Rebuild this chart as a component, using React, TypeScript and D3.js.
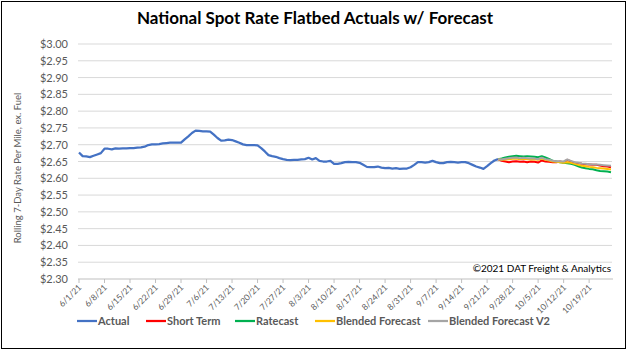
import React from "react";
import * as d3 from "d3";

// daily values starting 6/1/21
const actualStart = "6/1/21";
const actual = [
  2.677, 2.666, 2.665, 2.663, 2.667, 2.671, 2.675, 2.688, 2.688, 2.686,
  2.689, 2.688, 2.689, 2.689, 2.69, 2.69, 2.691, 2.692, 2.694, 2.699,
  2.701, 2.701, 2.702, 2.704, 2.705, 2.706, 2.706, 2.706, 2.706, 2.716,
  2.725, 2.735, 2.742, 2.741, 2.74, 2.74, 2.739, 2.73, 2.72, 2.712,
  2.713, 2.715, 2.714, 2.71, 2.706, 2.701, 2.699, 2.699, 2.699, 2.698,
  2.69, 2.68, 2.669, 2.666, 2.664, 2.66, 2.657, 2.655, 2.654, 2.655,
  2.655, 2.656, 2.657, 2.661, 2.656, 2.66, 2.652, 2.65, 2.65, 2.652,
  2.643, 2.643, 2.645, 2.648, 2.649, 2.648, 2.648, 2.646, 2.64, 2.634,
  2.633, 2.633, 2.635, 2.632, 2.63, 2.631, 2.629, 2.63, 2.628, 2.629,
  2.629, 2.633, 2.64, 2.648, 2.648, 2.647, 2.648, 2.652, 2.648, 2.645,
  2.645, 2.648, 2.649, 2.648, 2.647, 2.648, 2.648, 2.645, 2.64, 2.635,
  2.632, 2.628, 2.636, 2.645, 2.653, 2.657,
];

// forecasts start 9/24/21
const forecastStart = "9/24/21";
const shortTerm = [
  2.657, 2.652, 2.65, 2.648, 2.65, 2.651, 2.649, 2.65, 2.648, 2.65,
  2.649, 2.647, 2.653, 2.65, 2.649, 2.648, 2.648, 2.65, 2.647, 2.655,
  2.65, 2.646, 2.645, 2.643, 2.642, 2.641, 2.64, 2.64, 2.638, 2.636,
  2.635, 2.633,
];
const ratecast = [
  2.657, 2.659, 2.662, 2.664, 2.666, 2.667, 2.666, 2.665, 2.666, 2.665,
  2.664, 2.663, 2.666, 2.662, 2.658, 2.652, 2.65, 2.648, 2.646, 2.645,
  2.643, 2.64, 2.636, 2.632, 2.63, 2.628, 2.627, 2.624, 2.622, 2.621,
  2.62, 2.618,
];
const blended = [
  2.657, 2.655, 2.656, 2.657, 2.658, 2.659, 2.657, 2.658, 2.657, 2.656,
  2.657, 2.655, 2.659, 2.655, 2.653, 2.65, 2.649, 2.648, 2.646, 2.648,
  2.646, 2.643, 2.64, 2.637, 2.636, 2.634, 2.633, 2.631, 2.63, 2.629,
  2.628, 2.626,
];
const blendedV2 = [
  2.657, 2.656, 2.658, 2.66, 2.661, 2.662, 2.66, 2.661, 2.66, 2.659,
  2.659, 2.657, 2.661, 2.657, 2.655, 2.652, 2.651, 2.651, 2.65, 2.656,
  2.652, 2.648, 2.646, 2.644, 2.643, 2.642, 2.641, 2.641, 2.64, 2.639,
  2.638, 2.637,
];

const xTickLabels = [
  "6/1/21", "6/8/21", "6/15/21", "6/22/21", "6/29/21", "7/6/21", "7/13/21",
  "7/20/21", "7/27/21", "8/3/21", "8/10/21", "8/17/21", "8/24/21", "8/31/21",
  "9/7/21", "9/14/21", "9/21/21", "9/28/21", "10/5/21", "10/12/21", "10/19/21",
];
const yTicks = [
  2.3, 2.35, 2.4, 2.45, 2.5, 2.55, 2.6, 2.65, 2.7, 2.75, 2.8, 2.85, 2.9, 2.95, 3.0,
];

const seriesInfo = [
  { name: "Actual", color: "#4472C4" },
  { name: "Short Term", color: "#FF0000" },
  { name: "Ratecast", color: "#00B050" },
  { name: "Blended Forecast", color: "#FFC000" },
  { name: "Blended Forecast V2", color: "#A5A5A5" },
];

const parse = d3.utcParse("%m/%d/%y");
const toPoints = (start: string, vals: number[]) =>
  vals.map((v, i) => ({ date: d3.utcDay.offset(parse(start)!, i), value: v }));

const W = 627;
const H = 350;
const font = "Lato, 'Liberation Sans', sans-serif";
const gray = "#595959";

export default function App() {
  const x = d3
    .scaleUtc()
    .domain([parse("6/1/21")!, parse("10/25/21")!])
    .range([79, 611]);
  const y = d3.scaleLinear().domain([2.3, 3.0]).range([279, 44]);

  const line = d3
    .line<{ date: Date; value: number }>()
    .x((d) => x(d.date))
    .y((d) => y(d.value));

  const series = [
    toPoints(actualStart, actual),
    toPoints(forecastStart, shortTerm),
    toPoints(forecastStart, ratecast),
    toPoints(forecastStart, blended),
    toPoints(forecastStart, blendedV2),
  ];

  const legendX = [77, 146, 235, 315, 428];

  return (
    <div style={{ position: "fixed", left: 0, top: 0 }}>
      <svg width={W} height={H} style={{ display: "block", background: "#fff" }}>
        <rect x={1.5} y={1.5} width={W - 3} height={H - 3} fill="#fff" stroke="#000" strokeWidth={1} />
        <text x={315} y={24} textAnchor="middle" fontFamily={font} fontWeight="bold" fontSize={17} fill="#000">
          National Spot Rate Flatbed Actuals w/ Forecast
        </text>

        {/* gridlines + y labels */}
        {yTicks.map((t) => (
          <g key={t}>
            {t > 2.3 && (
              <line x1={78} x2={612} y1={y(t)} y2={y(t)} stroke="#d9d9d9" strokeWidth={1} />
            )}
            <text x={68} y={y(t) + 4} textAnchor="end" fontFamily={font} fontSize={11} fill={gray}>
              {d3.format("$.2f")(t)}
            </text>
          </g>
        ))}
        <text
          transform={`translate(21,168) rotate(-90)`}
          textAnchor="middle"
          fontFamily={font}
          fontSize={9.5}
          fill={gray}
        >
          Rolling 7-Day Rate Per Mile, ex. Fuel
        </text>

        {/* x axis */}
        <line x1={78} x2={613} y1={y(2.3)} y2={y(2.3)} stroke="#bfbfbf" strokeWidth={1} />
        {xTickLabels.map((l) => {
          const px = x(parse(l)!);
          return (
            <g key={l}>
              <line x1={px} x2={px} y1={y(2.3)} y2={y(2.3) + 4} stroke="#bfbfbf" />
              <text
                transform={`translate(${px + 3},${y(2.3) + 9}) rotate(-45)`}
                textAnchor="end"
                fontFamily={font}
                fontSize={8.5}
                fill={gray}
              >
                {l}
              </text>
            </g>
          );
        })}

        <text x={611} y={272} textAnchor="end" fontFamily={font} fontSize={10} fill="#000">
          ©2021 DAT Freight &amp; Analytics
        </text>

        {/* lines */}
        {series.map((s, i) => (
          <path
            key={seriesInfo[i].name}
            d={line(s) ?? ""}
            fill="none"
            stroke={seriesInfo[i].color}
            strokeWidth={i === 0 ? 2.25 : 2}
            strokeLinejoin="round"
          />
        ))}

        {/* legend */}
        {seriesInfo.map((s, i) => (
          <g key={s.name} transform={`translate(${legendX[i]},321)`}>
            <line x1={0} x2={20} y1={0} y2={0} stroke={s.color} strokeWidth={2.25} />
            <text x={21} y={4} fontFamily={font} fontWeight="bold" fontSize={11} fill={gray}>
              {s.name}
            </text>
          </g>
        ))}
      </svg>
    </div>
  );
}
